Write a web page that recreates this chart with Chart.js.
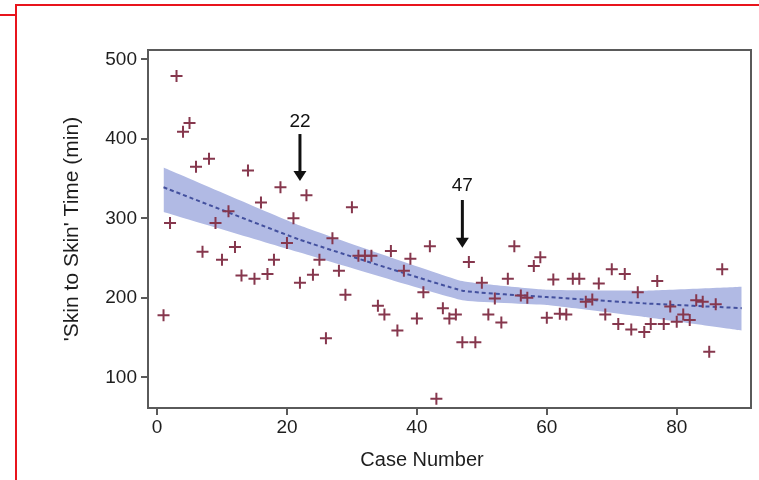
<!DOCTYPE html>
<html>
<head>
<meta charset="utf-8">
<script src="https://cdn.jsdelivr.net/npm/chart.js@4.4.0/dist/chart.umd.min.js"></script>
<style>
  html, body { margin: 0; padding: 0; background: #fff; }
  #wrap { position: relative; width: 759px; height: 480px; overflow: hidden; }
  #chart { position: absolute; left: 0; top: 0; }
  .red { position: absolute; background: #e8141c; }
</style>
</head>
<body>
<div id="wrap">
  <canvas id="chart" width="759" height="480"></canvas>
  <div class="red" style="left:15px; top:4px; width:744px; height:2px"></div>
  <div class="red" style="left:15px; top:4px; width:2px; height:476px"></div>
  <div class="red" style="left:0; top:14px; width:16px; height:2px"></div>
</div>
<script>
// ======= Data =======
const caseNumbers = [1, 2, 3, 4, 5, 6, 7, 8, 9, 10, 11, 12, 13, 14, 15, 16, 17, 18, 19, 20,
  21, 22, 23, 24, 25, 26, 27, 28, 29, 30, 31, 32, 33, 34, 35, 36, 37, 38, 39, 40,
  41, 42, 43, 44, 45, 46, 47, 48, 49, 50, 51, 52, 53, 54, 55, 56, 57, 58, 59, 60,
  61, 62, 63, 64, 65, 66, 67, 68, 69, 70, 71, 72, 73, 74, 75, 76, 77, 78, 79, 80,
  81, 82, 83, 84, 85, 86, 87];
const skinTimes = [178, 294, 479, 409, 420, 365, 258, 375, 294, 248, 309, 264, 228, 360, 224, 320, 230, 248, 339, 269,
  300, 219, 329, 229, 248, 149, 275, 234, 204, 314, 253, 253, 253, 190, 179, 259, 159, 234, 249, 174,
  207, 265, 73, 187, 174, 179, 144, 245, 144, 219, 179, 199, 169, 224, 265, 203, 200, 240, 251, 175,
  223, 180, 179, 224, 224, 195, 198, 218, 179, 236, 167, 230, 160, 207, 157, 167, 221, 167, 189, 170,
  179, 172, 197, 195, 132, 192, 236];

// fitted curve and its confidence band
const fitCases = [1, 22, 47, 60, 75, 90];
const fitTimes = [339, 273, 209, 201, 193, 187];
const ciLower = [308, 257, 197, 191, 176, 159];
const ciUpper = [364, 291, 221, 210, 209, 214];

// change points marked with arrows
const markerCases = [22, 47];
const markerLabelY = [421, 341];
const markerTopY = [406, 323];
const markerTipY = [347, 263];

const xTicks = [0, 20, 40, 60, 80];
const yTicks = [100, 200, 300, 400, 500];

const FONT = "'Liberation Sans', Arial, sans-serif";
const TEXT = '#1e1e1e';
const AXIS = '#5a5a5a';

const pts = (xs, ys) => xs.map((x, i) => ({ x: x, y: ys[i] }));

// box around plot + arrows + x title
const extras = {
  id: 'extras',
  afterDatasetsDraw(chart) {
    const { ctx, chartArea: a, scales: { x, y } } = chart;
    ctx.save();
    ctx.strokeStyle = AXIS;
    ctx.lineWidth = 2;
    ctx.strokeRect(a.left, a.top, a.right - a.left, a.bottom - a.top);

    markerCases.forEach((c, i) => {
      const px = x.getPixelForValue(c);
      const top = y.getPixelForValue(markerTopY[i]);
      const tip = y.getPixelForValue(markerTipY[i]);
      ctx.strokeStyle = '#111';
      ctx.fillStyle = '#111';
      ctx.lineWidth = 3;
      ctx.beginPath();
      ctx.moveTo(px, top);
      ctx.lineTo(px, tip - 8);
      ctx.stroke();
      ctx.beginPath();
      ctx.moveTo(px - 6.5, tip - 10);
      ctx.lineTo(px + 6.5, tip - 10);
      ctx.lineTo(px, tip);
      ctx.closePath();
      ctx.fill();
      ctx.font = '19px ' + FONT;
      ctx.textAlign = 'center';
      ctx.textBaseline = 'middle';
      ctx.fillText(String(c), px, y.getPixelForValue(markerLabelY[i]));
    });

    ctx.fillStyle = TEXT;
    ctx.font = '20px ' + FONT;
    ctx.textAlign = 'center';
    ctx.textBaseline = 'middle';
    ctx.fillText('Case Number', 422, 460);
    ctx.restore();
  }
};

new Chart(document.getElementById('chart').getContext('2d'), {
  type: 'scatter',
  data: {
    datasets: [
      {
        data: pts(caseNumbers, skinTimes),
        pointStyle: 'cross',
        pointRadius: 6,
        borderWidth: 2,
        borderColor: '#86374d',
        backgroundColor: '#86374d'
      },
      {
        data: pts(fitCases, fitTimes),
        showLine: true,
        pointRadius: 0,
        borderColor: '#43509e',
        borderWidth: 2,
        borderDash: [4, 3],
        tension: 0.1
      },
      {
        data: pts(fitCases, ciUpper),
        showLine: true,
        pointRadius: 0,
        borderWidth: 0,
        backgroundColor: '#b1bae4',
        fill: '+1',
        tension: 0.1
      },
      {
        data: pts(fitCases, ciLower),
        showLine: true,
        pointRadius: 0,
        borderWidth: 0,
        fill: false,
        tension: 0.1
      }
    ]
  },
  options: {
    responsive: false,
    animation: false,
    events: [],
    layout: { padding: { top: 50, right: 8, left: 0, bottom: 0 } },
    plugins: { legend: { display: false }, tooltip: { enabled: false } },
    scales: {
      x: {
        type: 'linear',
        min: -1.39,
        max: 91.43,
        afterBuildTicks: s => { s.ticks = xTicks.map(v => ({ value: v })); },
        afterFit: s => { s.height = 72; },
        grid: { drawOnChartArea: false, tickLength: 7, color: AXIS, lineWidth: 2 },
        border: { color: AXIS, width: 2 },
        ticks: { color: TEXT, font: { family: FONT, size: 19 }, padding: 1, maxRotation: 0 }
      },
      y: {
        min: 61.4,
        max: 511.7,
        afterBuildTicks: s => { s.ticks = yTicks.map(v => ({ value: v })); },
        afterFit: s => { s.width = 148; },
        grid: { drawOnChartArea: false, tickLength: 7, color: AXIS, lineWidth: 2 },
        border: { color: AXIS, width: 2 },
        ticks: { color: TEXT, font: { family: FONT, size: 19 }, padding: 4 },
        title: {
          display: true,
          text: "'Skin to Skin' Time (min)",
          color: TEXT,
          font: { family: FONT, size: 21 },
          padding: { top: 60, bottom: 0 }
        }
      }
    }
  },
  plugins: [extras]
});
</script>
</body>
</html>
